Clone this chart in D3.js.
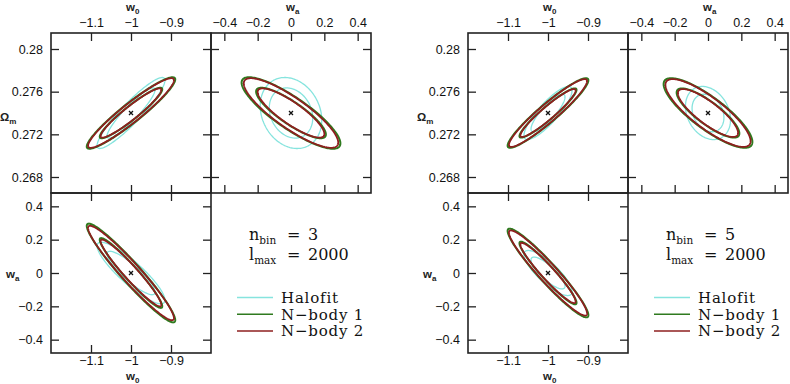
<!DOCTYPE html>
<html>
<head>
<meta charset="utf-8">
<script src="https://cdn.jsdelivr.net/npm/d3@7"></script>
<style>
  body { margin: 0; background: #fff; }
  svg { display: block; }
  .tick text { font-family: "Liberation Sans", Arial, sans-serif; font-size: 12.5px; fill: #111; }
  .tick line { stroke: #222; stroke-width: 1.3; }
  .frame { fill: none; stroke: #222; stroke-width: 1.6; }
  .title { font-family: "Liberation Sans", Arial, sans-serif; font-weight: bold; fill: #222; }
  .legend { font-family: "DejaVu Serif", serif; fill: #111; }
</style>
</head>
<body>
<svg width="790" height="384"></svg>
<script>
// fiducial point [w0, wa, Omega_m]
const fiducial = [-1, 0, 0.274];

const seriesNames = ["Halofit", "N\u2212body 1", "N\u2212body 2"];
const seriesColors = ["#86e4de", "#2f7a1f", "#8e1f1f"];
const seriesWidths = [1.3, 2, 1.8];

// marginal 1-sigma errors per series: [w0, wa, Omega_m]
const sigmaBin3 = [[0.0395, 0.086, 0.00155], [0.0515, 0.138, 0.00156], [0.050, 0.132, 0.00152]];
const sigmaBin5 = [[0.028, 0.063, 0.00116], [0.047, 0.124, 0.00152], [0.0455, 0.119, 0.00148]];
// correlations per series: [w0-Om, wa-Om, w0-wa]
const corrBin3 = [[0.92, -0.2, -0.88], [0.94, -0.85, -0.955], [0.94, -0.85, -0.955]];
const corrBin5 = [[0.85, -0.25, -0.82], [0.94, -0.83, -0.95], [0.94, -0.83, -0.95]];

// delta chi^2 of the two contours
const levels = [2.30, 4.61];

const nbins = [3, 5];
const lmax = 2000;

// axis ranges and ticks
const w0Domain = [-1.2, -0.8], waDomain = [-0.48, 0.48], omDomain = [0.2665, 0.2815];
const w0Ticks = [-1.1, -1, -0.9], w0Labels = ["\u22121.1", "\u22121", "\u22120.9"];
const waTicks = [-0.4, -0.2, 0, 0.2, 0.4], waLabels = ["\u22120.4", "\u22120.2", "0", "0.2", "0.4"];
const omTicks = [0.268, 0.272, 0.276, 0.28], omLabels = ["0.268", "0.272", "0.276", "0.28"];
const w0Minor = d3.range(-1.2, -0.799, 0.02);
const waMinor = d3.range(-0.45, 0.451, 0.05);
const omMinor = d3.range(0.2665, 0.2816, 0.0005);

const svg = d3.select("svg");
const size = 160, top0 = 33;

// ellipse points for a 2x2 covariance block (Cholesky form)
function ellipsePts(cx, cy, sx, sy, r, k) {
  return d3.range(0, 2 * Math.PI + 0.001, Math.PI / 90).map(t => [
    cx + k * sx * Math.cos(t),
    cy + k * sy * (r * Math.cos(t) + Math.sqrt(1 - r * r) * Math.sin(t))
  ]);
}

function addAxis(g, axisFn, scale, majors, labels, minors, pad) {
  g.call(axisFn(scale).tickValues(minors).tickSize(-4).tickFormat(""));
  g.call(axisFn(scale).tickValues(majors).tickSize(-8).tickPadding(pad)
    .tickFormat(labels ? (d, i) => labels[i] : ""));
  g.selectAll(".domain").remove();
}

function subTitle(g, x, y, main, sub) {
  const t = g.append("text").attr("class", "title").attr("x", x).attr("y", y);
  t.append("tspan").attr("font-size", 11.5).text(main);
  t.append("tspan").attr("font-size", 8).attr("dy", 3).text(sub);
}

function drawTriangle(x0, sigmas, corrs, nbin) {
  const xw0 = d3.scaleLinear().domain(w0Domain).range([x0, x0 + size]);
  const xwa = d3.scaleLinear().domain(waDomain).range([x0 + size, x0 + 2 * size]);
  const yom = d3.scaleLinear().domain(omDomain).range([top0 + size, top0]);
  const ywa = d3.scaleLinear().domain(waDomain).range([top0 + 2 * size, top0 + size]);

  // panels: x param index, y param index, scales, which corr
  const panels = [
    {xi: 0, yi: 2, xs: xw0, ys: yom, ci: 0},
    {xi: 1, yi: 2, xs: xwa, ys: yom, ci: 1},
    {xi: 0, yi: 1, xs: xw0, ys: ywa, ci: 2}
  ];

  const line = d3.line().curve(d3.curveLinearClosed);

  panels.forEach(p => {
    const g = svg.append("g");
    const cx = p.xs(fiducial[p.xi]), cy = p.ys(fiducial[p.yi]);
    seriesNames.forEach((name, s) => {
      const sx = Math.abs(p.xs(fiducial[p.xi] + sigmas[s][p.xi]) - cx);
      const sy = Math.abs(p.ys(fiducial[p.yi] + sigmas[s][p.yi]) - cy);
      levels.forEach(lv => {
        g.append("path")
          .attr("d", line(ellipsePts(cx, cy, sx, sy, -corrs[s][p.ci], Math.sqrt(lv))))
          .attr("fill", "none")
          .attr("stroke", seriesColors[s])
          .attr("stroke-width", seriesWidths[s]);
      });
    });
    // fiducial cross
    g.append("path")
      .attr("d", `M${cx - 2},${cy - 2}L${cx + 2},${cy + 2}M${cx - 2},${cy + 2}L${cx + 2},${cy - 2}`)
      .attr("stroke", "#111").attr("stroke-width", 1.3);
  });

  // axes of top-left panel (w0 vs Om)
  addAxis(svg.append("g").attr("transform", `translate(0,${top0})`), d3.axisTop, xw0, w0Ticks, w0Labels, w0Minor, 6);
  addAxis(svg.append("g").attr("transform", `translate(0,${top0 + size})`), d3.axisBottom, xw0, w0Ticks, null, w0Minor, 6);
  addAxis(svg.append("g").attr("transform", `translate(${x0},0)`), d3.axisLeft, yom, omTicks, omLabels, omMinor, 8);
  addAxis(svg.append("g").attr("transform", `translate(${x0 + size},0)`), d3.axisRight, yom, omTicks, null, omMinor, 6);
  // top-right panel (wa vs Om)
  addAxis(svg.append("g").attr("transform", `translate(0,${top0})`), d3.axisTop, xwa, waTicks, waLabels, waMinor, 6);
  addAxis(svg.append("g").attr("transform", `translate(0,${top0 + size})`), d3.axisBottom, xwa, waTicks, null, waMinor, 6);
  addAxis(svg.append("g").attr("transform", `translate(${x0 + size},0)`), d3.axisLeft, yom, omTicks, null, omMinor, 6);
  addAxis(svg.append("g").attr("transform", `translate(${x0 + 2 * size},0)`), d3.axisRight, yom, omTicks, null, omMinor, 6);
  // bottom-left panel (w0 vs wa)
  addAxis(svg.append("g").attr("transform", `translate(0,${top0 + size})`), d3.axisTop, xw0, w0Ticks, null, w0Minor, 6);
  addAxis(svg.append("g").attr("transform", `translate(0,${top0 + 2 * size})`), d3.axisBottom, xw0, w0Ticks, w0Labels, w0Minor, 3.5);
  addAxis(svg.append("g").attr("transform", `translate(${x0},0)`), d3.axisLeft, ywa, waTicks, waLabels, waMinor, 8);
  addAxis(svg.append("g").attr("transform", `translate(${x0 + size},0)`), d3.axisRight, ywa, waTicks, null, waMinor, 6);

  // frames
  [[x0, top0], [x0 + size, top0], [x0, top0 + size]].forEach(([x, y]) => {
    svg.append("rect").attr("class", "frame").attr("x", x).attr("y", y)
      .attr("width", size).attr("height", size);
  });

  // axis titles
  subTitle(svg, x0 + size / 2 - 5, 11, "w", "0");
  subTitle(svg, x0 + 1.5 * size - 5, 11, "w", "a");
  subTitle(svg, x0 - 51, 121, "\u03a9", "m");
  subTitle(svg, x0 - 45, 278, "w", "a");
  subTitle(svg, x0 + size / 2 - 5, 379.5, "w", "0");

  // text block
  const lx = x0 + 198;
  const t1 = svg.append("text").attr("class", "legend").attr("x", lx).attr("y", 240).attr("font-size", 16);
  t1.append("tspan").text("n");
  t1.append("tspan").attr("font-size", 10.5).attr("dy", 4).text("bin");
  svg.append("text").attr("class", "legend").attr("x", lx + 38).attr("y", 240).attr("font-size", 16).text("=");
  svg.append("text").attr("class", "legend").attr("x", lx + 59).attr("y", 240).attr("font-size", 16).text(nbin);
  const t2 = svg.append("text").attr("class", "legend").attr("x", lx).attr("y", 260).attr("font-size", 16);
  t2.append("tspan").text("l");
  t2.append("tspan").attr("font-size", 10.5).attr("dy", 4).text("max");
  svg.append("text").attr("class", "legend").attr("x", lx + 38).attr("y", 260).attr("font-size", 16).text("=");
  svg.append("text").attr("class", "legend").attr("x", lx + 59).attr("y", 260).attr("font-size", 16).text(lmax);

  // legend
  seriesNames.forEach((name, s) => {
    const y = 297.5 + s * 16.7;
    svg.append("line").attr("x1", x0 + 186).attr("x2", x0 + 222).attr("y1", y).attr("y2", y)
      .attr("stroke", seriesColors[s]).attr("stroke-width", 1.5);
    svg.append("text").attr("class", "legend").attr("x", x0 + 230).attr("y", y + 5.5)
      .attr("font-size", 15).attr("letter-spacing", 0.8).text(name);
  });
}

drawTriangle(51, sigmaBin3, corrBin3, nbins[0]);
drawTriangle(468, sigmaBin5, corrBin5, nbins[1]);
</script>
</body>
</html>
